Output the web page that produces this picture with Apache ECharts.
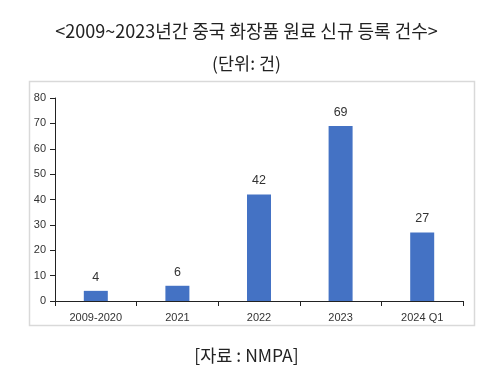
<!DOCTYPE html>
<html><head><meta charset="utf-8">
<script src="https://cdn.jsdelivr.net/npm/echarts@6/dist/echarts.min.js"></script>
<style>html,body{margin:0;padding:0;background:#fff}#c{width:493px;height:384px}</style>
</head><body><div id="c"></div>
<script>
const categories = ['2009-2020', '2021', '2022', '2023', '2024 Q1'];
const values = [4, 6, 42, 69, 27];
const yTicks = [0, 10, 20, 30, 40, 50, 60, 70, 80];

const chart = echarts.init(document.getElementById('c'), null, {renderer: 'canvas'});
const cjk = '"Noto Sans CJK KR", "Noto Sans", sans-serif';
chart.setOption({
  animation: false,
  backgroundColor: '#fff',
  title: [
    {text: '<2009~2023년간 중국 화장품 원료 신규 등록 건수>', left: 'center', top: 17,
     textStyle: {fontFamily: cjk, fontSize: 18, fontWeight: 'normal', color: '#222'}},
    {text: '(단위: 건)', left: 'center', top: 50,
     textStyle: {fontFamily: cjk, fontSize: 17.5, fontWeight: 'normal', color: '#222'}},
    {text: '[자료 : NMPA]', left: 'center', top: 342,
     textStyle: {fontFamily: cjk, fontSize: 17.5, fontWeight: 'normal', color: '#222'}}
  ],
  graphic: [{type: 'rect', shape: {x: 29.5, y: 81.5, width: 445, height: 244},
    style: {fill: 'none', stroke: '#d9d9d9', lineWidth: 1.5}, z: -1}],
  grid: {left: 55, right: 30, top: 98, bottom: 83},
  xAxis: {
    type: 'category', data: categories,
    axisLine: {lineStyle: {color: '#222', width: 1}},
    axisTick: {show: true, inside: false, length: 5, lineStyle: {color: '#222'}},
    axisLabel: {fontFamily: '"Liberation Sans", sans-serif', fontSize: 11, color: '#333', margin: 11}
  },
  yAxis: {
    type: 'value', min: yTicks[0], max: yTicks[yTicks.length - 1], interval: 10,
    axisLine: {show: true, lineStyle: {color: '#222', width: 1}},
    axisTick: {show: true, length: 5, lineStyle: {color: '#222'}},
    splitLine: {show: false},
    axisLabel: {fontFamily: '"Liberation Sans", sans-serif', fontSize: 11, color: '#333', margin: 9}
  },
  series: [{
    type: 'bar', data: values, barWidth: 24,
    itemStyle: {color: '#4472C4'},
    label: {show: true, position: 'top', distance: 7, fontFamily: '"Liberation Sans", sans-serif',
      fontSize: 12.5, color: '#333'}
  }]
});
</script></body></html>
